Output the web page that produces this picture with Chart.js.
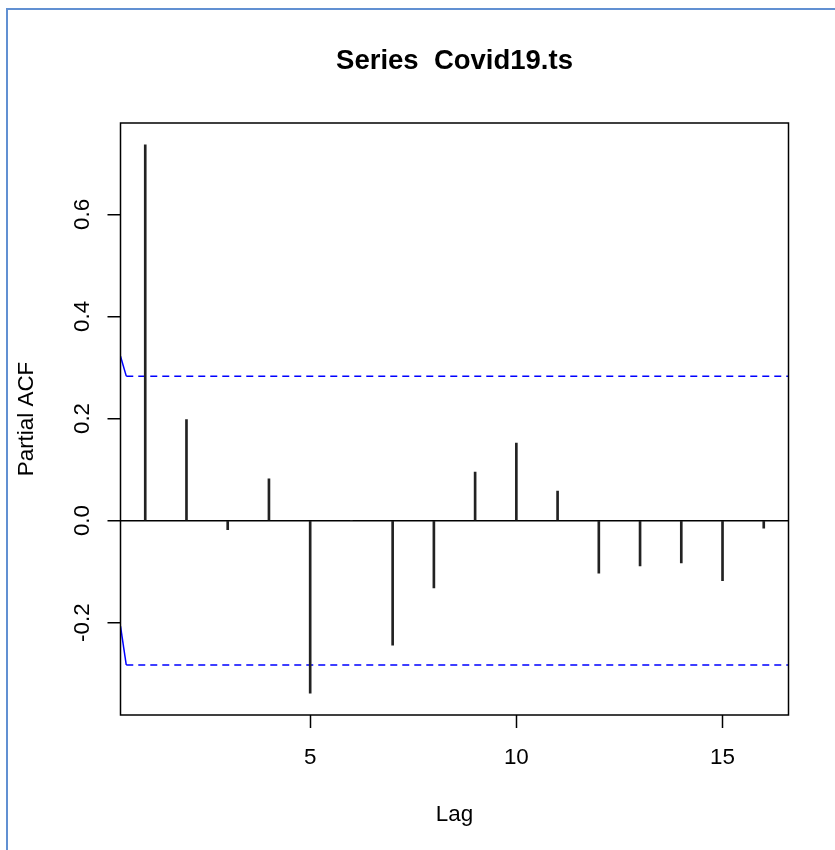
<!DOCTYPE html>
<html><head><meta charset="utf-8">
<script src="https://cdn.jsdelivr.net/npm/chart.js@4.4.1/dist/chart.umd.min.js"></script>
<style>
html,body{margin:0;padding:0;background:#fff;}
#wrap{position:relative;width:835px;height:850px;overflow:hidden;background:#fff;}
#frame{position:absolute;left:5.5px;top:7.5px;width:900px;height:900px;border-left:2px solid #6190d2;border-top:2px solid #6190d2;}
canvas{position:absolute;left:0;top:0;}
</style></head><body>
<div id="wrap"><div id="frame"></div><canvas id="c" width="835" height="850"></canvas></div>
<script>
// ---- data ----
const lags = [1,2,3,4,5,6,7,8,9,10,11,12,13,14,15,16];
const pacf = [0.736, 0.198, -0.018, 0.082, -0.338, 0.0, -0.244, -0.132, 0.095, 0.152, 0.058, -0.103, -0.089, -0.083, -0.118, -0.015];
const clim = 0.283;
const climStart = [0.322, -0.207];
const climKnee = 0.54;
const lagRange = [0.4, 16.6];
const valueRange = [-0.381, 0.779];
const xTicks = [5, 10, 15];
const xTickLabels = ['5', '10', '15'];
const yTicks = [-0.2, 0, 0.2, 0.4, 0.6];
const yTickLabels = ['-0.2', '0.0', '0.2', '0.4', '0.6'];
const titleText = 'Series  Covid19.ts';
const xTitle = 'Lag';
const yTitle = 'Partial ACF';

const F = '"Liberation Sans", Arial, sans-serif';

const frameAndYLabels = {
  id: 'frameAndYLabels',
  afterDraw(chart) {
    const ctx = chart.ctx, a = chart.chartArea, ys = chart.scales.y;
    ctx.save();
    ctx.strokeStyle = '#000';
    ctx.lineWidth = 1.5;
    ctx.strokeRect(a.left, a.top, a.right - a.left, a.bottom - a.top);
    ctx.fillStyle = '#000';
    ctx.font = '22.4px ' + F;
    ctx.textAlign = 'center';
    ctx.textBaseline = 'alphabetic';
    ys.ticks.forEach((t) => {
      const i = yTicks.indexOf(t.value);
      if (i < 0) return;
      const py = ys.getPixelForValue(t.value);
      ctx.save();
      ctx.translate(89.3, py);
      ctx.rotate(-Math.PI / 2);
      ctx.fillText(yTickLabels[i], 0, 0);
      ctx.restore();
    });
    ctx.restore();
  }
};

const dashSeg = { borderDash: (c) => (c.p0DataIndex === 0 ? [] : [7, 5]) };

new Chart(document.getElementById('c'), {
  type: 'bar',
  data: {
    datasets: [
      {
        type: 'bar',
        data: lags.map((l, i) => ({ x: l, y: [0, pacf[i]] })),
        backgroundColor: '#222',
        borderWidth: 0,
        barThickness: 2,
        grouped: false
      },
      {
        type: 'line',
        data: [{ x: lagRange[0], y: climStart[0] }, { x: climKnee, y: clim }, { x: lagRange[1], y: clim }],
        borderColor: '#0000ff', borderWidth: 1.5, pointRadius: 0, fill: false, segment: dashSeg
      },
      {
        type: 'line',
        data: [{ x: lagRange[0], y: climStart[1] }, { x: climKnee, y: -clim }, { x: lagRange[1], y: -clim }],
        borderColor: '#0000ff', borderWidth: 1.5, pointRadius: 0, fill: false, segment: dashSeg
      }
    ]
  },
  options: {
    responsive: false,
    animation: false,
    devicePixelRatio: 1,
    layout: { padding: { left: 0, right: 46.5, top: 0, bottom: 0 } },
    plugins: {
      legend: { display: false },
      tooltip: { enabled: false },
      title: {
        display: true, text: titleText, color: '#000', fullSize: false,
        font: { family: F, size: 27.5, weight: 'bold', lineHeight: 1.2 },
        padding: { top: 45, bottom: 45 }
      }
    },
    scales: {
      x: {
        type: 'linear', min: lagRange[0], max: lagRange[1], offset: false,
        afterBuildTicks: (s) => { s.ticks = xTicks.map((v) => ({ value: v })); },
        afterFit: (s) => { s.height = 135; },
        grid: { offset: false, drawOnChartArea: false, drawTicks: true, tickLength: 13, tickColor: '#000', tickWidth: 1.5 },
        border: { display: false },
        ticks: {
          color: '#000', font: { family: F, size: 22.4 }, padding: 16.5,
          minRotation: 0, maxRotation: 0, autoSkip: false,
          callback: (v) => { const i = xTicks.indexOf(v); return i >= 0 ? xTickLabels[i] : ''; }
        },
        title: { display: true, text: xTitle, color: '#000', font: { family: F, size: 22.4 }, padding: { top: 0, bottom: 21.6 } }
      },
      y: {
        type: 'linear', min: valueRange[0], max: valueRange[1],
        afterBuildTicks: (s) => { s.ticks = yTicks.map((v) => ({ value: v })); },
        afterFit: (s) => { s.width = 120.5; },
        grid: {
          drawOnChartArea: true, drawTicks: true, tickLength: 13, tickColor: '#000', tickWidth: 1.5, lineWidth: 1.5,
          color: (c) => (c.tick && c.tick.value === 0 ? '#000' : 'rgba(0,0,0,0)')
        },
        border: { display: false },
        ticks: { display: false, font: { family: F, size: 22.4 } },
        title: { display: true, text: yTitle, color: '#000', font: { family: F, size: 22.4 }, padding: { top: 13.6, bottom: 0 } }
      }
    }
  },
  plugins: [frameAndYLabels]
});
</script>
</body></html>
